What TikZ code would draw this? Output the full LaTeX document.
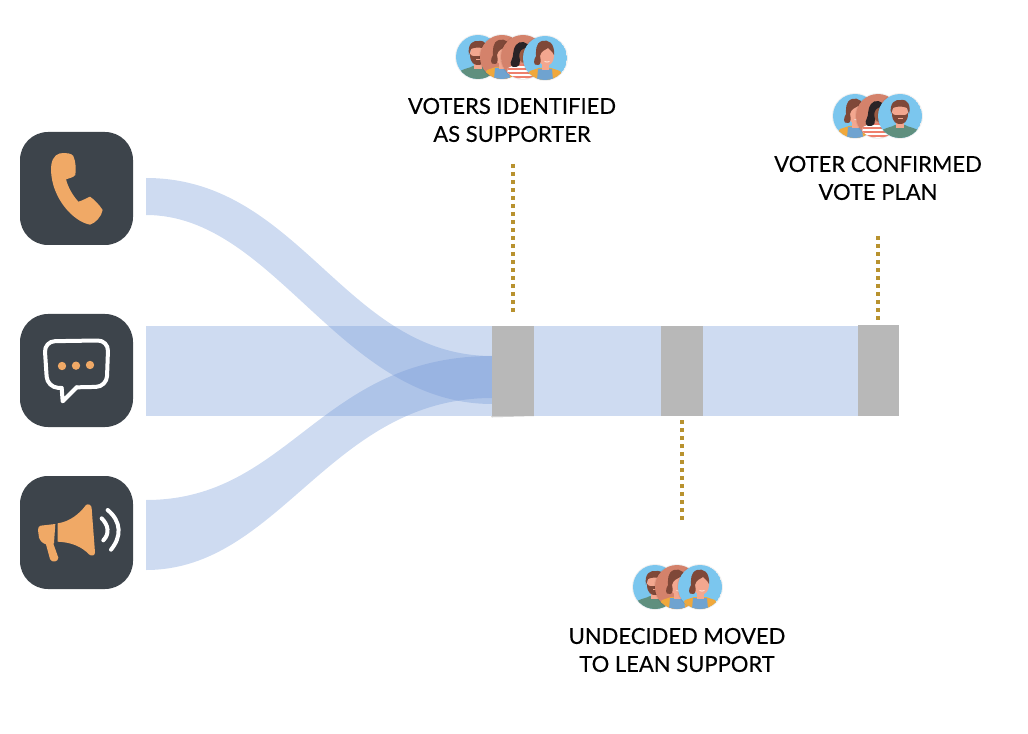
\documentclass[tikz,border=0pt]{standalone}
\usepackage{fontspec}
\setmainfont{Lato}
\newfontfamily\captionfont[FakeBold=0.25]{Lato}
\usepackage{tikz}
\usetikzlibrary{calc}

\definecolor{iconbg}{HTML}{3D444B}
\definecolor{iconorange}{HTML}{F0A966}
\definecolor{flowblue}{HTML}{7398D7}
\definecolor{blockgray}{HTML}{B8B8B8}
\definecolor{dotgold}{HTML}{B8922F}
\definecolor{skyface}{HTML}{7BC6EE}
\definecolor{terraface}{HTML}{D4826B}
\definecolor{skinlight}{HTML}{F3A78F}
\definecolor{skindark}{HTML}{9C5A42}
\definecolor{hairbrown}{HTML}{7F4838}
\definecolor{hairdark}{HTML}{2A2326}
\definecolor{shirtgreen}{HTML}{5F8F7E}
\definecolor{shirtblue}{HTML}{6FA3D0}
\definecolor{jacketorange}{HTML}{F0A83C}
\definecolor{stripecoral}{HTML}{EE7F6C}

\tikzset{
    iconbox/.style={fill=iconbg, rounded corners=21pt, minimum size=84.75pt, inner sep=0pt},
    flow/.style={fill=flowblue, opacity=0.35},
    block/.style={fill=blockgray, inner sep=0pt, minimum height=67.5pt},
    dotline/.style={dotgold, line width=3pt, dash pattern=on 3pt off 3pt},
    caption/.style={align=center, font=\captionfont\fontsize{16.5}{21}\selectfont, text=black},
    whiteline/.style={white, line cap=round, line join=round},
    pics/manface/.style={code={
        \fill[black, opacity=0.06] (0,0) circle (23);
        \begin{scope}
            \clip (0,0) circle (22);
            \fill[#1] (0,0) circle (22);
            \fill[shirtgreen] (-22,22) -- (-18,14) .. controls (-12,11) and (-8,11) .. (-5,9) -- (5,9) .. controls (8,11) and (12,11) .. (18,14) -- (22,22) -- cycle;
            \fill[skinlight] (-4,2) rectangle (4,12);
            \fill[skinlight] (0,-3) ellipse (8 and 10);
            \fill[hairbrown] (-9,-2) .. controls (-11,-14) and (-4,-17) .. (1,-16) .. controls (8,-17) and (11,-10) .. (9,-2) -- (7,-8) .. controls (3,-10) and (-3,-10) .. (-7,-8) -- cycle;
            \fill[hairbrown] (-8,-3) .. controls (-8,7) and (-3,8) .. (0,8) .. controls (3,8) and (8,7) .. (8,-3) .. controls (6,0) and (3,-1) .. (0,-1) .. controls (-3,-1) and (-6,0) .. (-8,-3) -- cycle;
            \fill[skinlight] (-2.5,2) rectangle (2.5,3.2);
        \end{scope}
    }},
    pics/womanface/.style={code={
        \fill[black, opacity=0.06] (0,0) circle (23);
        \begin{scope}
            \clip (0,0) circle (22);
            \fill[#1] (0,0) circle (22);
            \fill[jacketorange] (-20,22) -- (-15,13) -- (-6,10) -- (6,10) -- (15,13) -- (20,22) -- cycle;
            \fill[shirtblue] (-8,22) -- (-7,11) -- (7,11) -- (8,22) -- cycle;
            \fill[skinlight] (-3,3) rectangle (4,12);
            \fill[skinlight] (1,-2) ellipse (8 and 10);
            \fill[hairbrown] (9,-3) .. controls (10,-15) and (3,-19) .. (-3,-17) .. controls (-10,-15) and (-9,-6) .. (-9,-2) .. controls (-11,1) and (-13,8) .. (-7,7) .. controls (-4,7) and (-4,2) .. (-5,-2) .. controls (-4,-7) and (0,-8) .. (3,-10) .. controls (5,-8) and (7,-7) .. (9,-3) -- cycle;
            \fill[white, opacity=0.7] (-1,3) .. controls (1,3.8) and (3,3.8) .. (5,3) .. controls (4,5) and (0,5) .. (-1,3) -- cycle;
        \end{scope}
    }},
    pics/darkface/.style={code={
        \fill[black, opacity=0.06] (0,0) circle (23);
        \begin{scope}
            \clip (0,0) circle (22);
            \fill[#1] (0,0) circle (22);
            \fill[white] (-17,22) -- (-15,11) -- (-6,7) -- (6,7) -- (15,11) -- (17,22) -- cycle;
            \begin{scope}
                \clip (-17,22) -- (-15,11) -- (-6,7) -- (6,7) -- (15,11) -- (17,22) -- cycle;
                \foreach \row in {7,11,15,19}
                    \fill[stripecoral] (-20,\row) rectangle (20,\row+2.5);
            \end{scope}
            \fill[skindark] (2,-3) ellipse (7 and 9);
            \fill[hairdark] (7,-8) .. controls (6,-16) and (-4,-17) .. (-7,-12) .. controls (-11,-6) and (-9,-2) .. (-11,2) .. controls (-14,7) and (-12,11) .. (-7,10) .. controls (-3,9) and (-3,6) .. (-3,3) .. controls (-5,-2) and (-3,-7) .. (0,-8) .. controls (3,-10) and (5,-9) .. (7,-8) -- cycle;
        \end{scope}
    }},
}

\begin{document}
\begin{tikzpicture}[x=0.75pt, y=-0.75pt]
    \useasboundingbox (0,0) rectangle (1028,734);

    % channel icons
    \node[iconbox] (phonebox) at (76.5,188.5) {};
    \node[iconbox] (chatbox) at (76.5,370.5) {};
    \node[iconbox] (hornbox) at (76.5,532.5) {};

    % flows
    \coordinate (TopA) at (146,178);
    \coordinate (TopB) at (146,215);
    \coordinate (TopC) at (492,356);
    \coordinate (TopD) at (492,404);
    \coordinate (LowA) at (146,500);
    \coordinate (LowB) at (146,570);
    \coordinate (LowC) at (492,356);
    \coordinate (LowD) at (492,398);

    \fill[flow] (146,326) rectangle (859,416);
    \fill[flow] (TopA) .. controls (300,178) and (345,356) .. (TopC) -- (TopD) .. controls (340,404) and (275,215) .. (TopB) -- cycle;
    \fill[flow] (LowA) .. controls (290,500) and (320,356) .. (LowC) -- (LowD) .. controls (330,398) and (280,570) .. (LowB) -- cycle;

    % stages
    \node[block, minimum width=31.5pt] (stageone) at (512.5,371) {};
    \node[block, minimum width=31.5pt] (stagetwo) at (682,371) {};
    \node[block, minimum width=30.75pt] (stagethree) at (878.5,370.5) {};
    \fill[blockgray] (stageone.south west) -- (stageone.south east) -- ++(-42,1) -- cycle;

    % labels
    \node[caption] (labelone) at (512,120) {VOTERS IDENTIFIED\\AS SUPPORTER};
    \node[caption] (labeltwo) at (677,650) {UNDECIDED MOVED\\TO LEAN SUPPORT};
    \node[caption] (labelthree) at (878,178) {VOTER CONFIRMED\\VOTE PLAN};

    \coordinate (dotone) at (513,164);
    \coordinate (dottwo) at (682,520);
    \coordinate (dotthree) at (878,236);
    \draw[dotline, shorten >=9pt] (dotone) -- (dotone |- stageone.north);
    \draw[dotline, shorten >=3pt] (dottwo) -- (dottwo |- stagetwo.south);
    \draw[dotline, shorten >=3.5pt] (dotthree) -- (dotthree |- stagethree.north);

    % voters
    \pic (voterA) at (478,57) {manface=skyface};
    \pic (voterB) at (502,57) {womanface=terraface};
    \pic (voterC) at (523,57) {darkface=terraface};
    \pic (voterD) at (545,58) {womanface=skyface};

    \pic (voterE) at (655,587) {manface=skyface};
    \pic (voterF) at (677,587) {womanface=terraface};
    \pic (voterG) at (700,587) {womanface=skyface};

    \pic (voterH) at (855,116) {womanface=skyface};
    \pic (voterI) at (878,116) {darkface=terraface};
    \pic (voterJ) at (900,116) {manface=skyface};

    % phone
    \begin{scope}[shift={(10,120)}, x=0.25pt, y=-0.25pt]
        \fill[iconorange] (150,100) .. controls (170,98) and (185,100) .. (190,108) .. controls (198,125) and (198,150) .. (196,165) .. controls (190,172) and (178,175) .. (168,178) .. controls (175,205) and (190,228) .. (205,245) .. controls (215,243) and (228,235) .. (240,230) .. controls (255,240) and (268,255) .. (278,270) .. controls (275,290) and (255,310) .. (240,314) .. controls (190,305) and (125,235) .. (123,150) .. controls (123,125) and (130,105) .. (150,100) -- cycle;
    \end{scope}

    % chat
    \begin{scope}[shift={(10,300)}, x=0.25pt, y=-0.25pt]
        \draw[whiteline, line width=3pt, rounded corners=8pt] (155,264) -- (112,262) -- (103,124) -- (295,121) -- (290,260) -- (200,262);
        \draw[whiteline, line width=3pt] (200,262) -- (158,304) -- (155,264);
        \foreach \dotx/\doty in {156/198, 198/197, 240/195}
            \fill[iconorange] (\dotx,\doty) circle (12.5);
    \end{scope}

    % megaphone
    \begin{scope}[shift={(10,465)}, x=0.25pt, y=-0.25pt]
        \fill[iconorange] (143,175) .. controls (180,170) and (210,145) .. (228,120) .. controls (235,115) and (245,120) .. (245,130) -- (255,262) .. controls (255,272) and (245,275) .. (237,268) .. controls (215,245) and (185,232) .. (143,230) -- cycle;
        \fill[iconorange] (92,182) -- (136,177) -- (132,234) -- (130,236) -- (145,278) .. controls (146,290) and (125,295) .. (120,282) -- (108,238) .. controls (100,236) and (90,228) .. (87,218) -- (84,195) .. controls (84,187) and (87,183) .. (92,182) -- cycle;
        \draw[whiteline, line width=3pt] (275,160) .. controls (295,180) and (300,205) .. (280,226);
        \draw[whiteline, line width=3pt] (293,135) .. controls (335,170) and (335,215) .. (303,254);
    \end{scope}
\end{tikzpicture}
\end{document}
